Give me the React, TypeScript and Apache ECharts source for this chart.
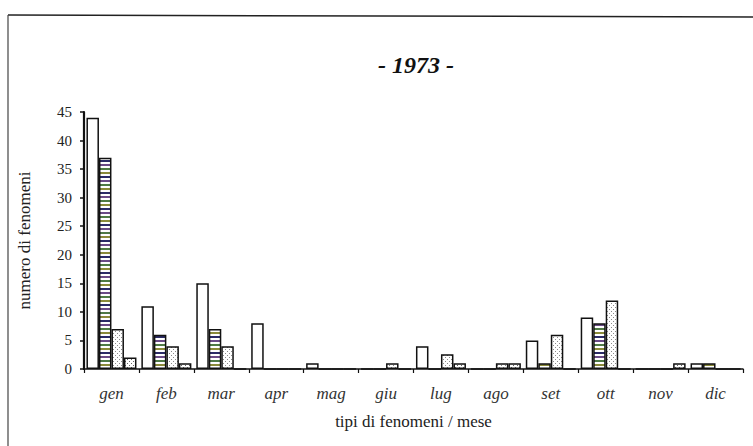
import React, { useEffect, useRef } from "react";
import * as echarts from "echarts";

const months = ["gen", "feb", "mar", "apr", "mag", "giu", "lug", "ago", "set", "ott", "nov", "dic"];
const seriesA = [44, 11, 15, 8, 1, 0, 4, 0, 5, 9, 0, 1];
const seriesB = [37, 6, 7, 0, 0, 0, 0, 0, 1, 8, 0, 1];
const seriesC = [7, 4, 4, 0, 0, 1, 2.6, 1, 6, 12, 0, 0];
const seriesD = [2, 1, 0, 0, 0, 0, 1, 1, 0, 0, 1, 0];
const yTicks = [0, 5, 10, 15, 20, 25, 30, 35, 40, 45];

function makeStripe(): HTMLCanvasElement {
  const c = document.createElement("canvas");
  c.width = 4;
  c.height = 16;
  const ctx = c.getContext("2d")!;
  ctx.fillStyle = "#ffffff";
  ctx.fillRect(0, 0, 4, 16);
  const cols = ["#2b2b66", "#6a4a86", "#4f7a45", "#8a8a3a"];
  cols.forEach((col, i) => {
    ctx.fillStyle = col;
    ctx.fillRect(0, i * 4, 4, 2);
  });
  return c;
}

function makeDots(dark: string): HTMLCanvasElement {
  const c = document.createElement("canvas");
  c.width = 4;
  c.height = 4;
  const ctx = c.getContext("2d")!;
  ctx.fillStyle = "#ffffff";
  ctx.fillRect(0, 0, 4, 4);
  ctx.fillStyle = dark;
  ctx.fillRect(1, 1, 1, 1);
  ctx.fillRect(3, 3, 1, 1);
  return c;
}

export default function App() {
  const ref = useRef<HTMLDivElement>(null);
  useEffect(() => {
    if (!ref.current) return;
    const chart = echarts.init(ref.current, null, { renderer: "svg" });
    const stripe = makeStripe();
    const dots = makeDots("#8a8a8a");
    const dots2 = makeDots("#666666");
    const serif = "'Liberation Serif', 'Times New Roman', serif";
    const border = { borderColor: "#111", borderWidth: 1.5 };
    chart.setOption({
      animation: false,
      backgroundColor: "#ffffff",
      title: {
        text: "- 1973 -",
        left: 411,
        top: 48,
        textAlign: "center",
        textStyle: { fontFamily: serif, fontStyle: "italic", fontWeight: "bold", fontSize: 24, color: "#111" },
      },
      graphic: [
        { type: "line", shape: { x1: 8, y1: 15, x2: 753, y2: 17 }, style: { stroke: "#222", lineWidth: 1.5 } },
        { type: "line", shape: { x1: 8, y1: 15, x2: 8, y2: 446 }, style: { stroke: "#444", lineWidth: 1.2 } },
      ],
      grid: { left: 84, right: 10, top: 112, bottom: 77, containLabel: false },
      xAxis: {
        type: "category",
        data: months,
        name: "tipi di fenomeni / mese",
        nameLocation: "middle",
        nameGap: 44,
        nameTextStyle: { fontFamily: serif, fontSize: 17, color: "#222" },
        axisLine: { lineStyle: { color: "#111", width: 1.5 } },
        axisTick: { show: true, length: 4, lineStyle: { color: "#111", width: 1.2 } },
        axisLabel: { fontFamily: serif, fontStyle: "italic", fontSize: 17, color: "#333", margin: 16 },
      },
      yAxis: {
        type: "value",
        min: yTicks[0],
        max: yTicks[yTicks.length - 1],
        interval: 5,
        name: "numero di fenomeni",
        nameLocation: "middle",
        nameGap: 51,
        nameTextStyle: { fontFamily: serif, fontSize: 17, color: "#222" },
        axisLine: { show: true, lineStyle: { color: "#111", width: 2.2 } },
        axisTick: { show: true, length: 4, lineStyle: { color: "#111", width: 1.5 } },
        axisLabel: { fontFamily: serif, fontSize: 15, color: "#222", margin: 12 },
        splitLine: { show: false },
      },
      series: [
        { type: "bar", data: seriesA, barWidth: 12.5, barGap: "0%", itemStyle: { color: "#ffffff", ...border } },
        { type: "bar", data: seriesB, barWidth: 12.5, barGap: "0%", itemStyle: { color: { image: stripe, repeat: "repeat" }, ...border } },
        { type: "bar", data: seriesC, barWidth: 12.5, barGap: "0%", itemStyle: { color: { image: dots, repeat: "repeat" }, ...border } },
        { type: "bar", data: seriesD, barWidth: 12.5, barGap: "0%", itemStyle: { color: { image: dots2, repeat: "repeat" }, ...border } },
      ],
    });
    return () => chart.dispose();
  }, []);
  return <div ref={ref} style={{ position: "fixed", left: 0, top: 0, width: 753, height: 446, background: "#fff" }} />;
}
